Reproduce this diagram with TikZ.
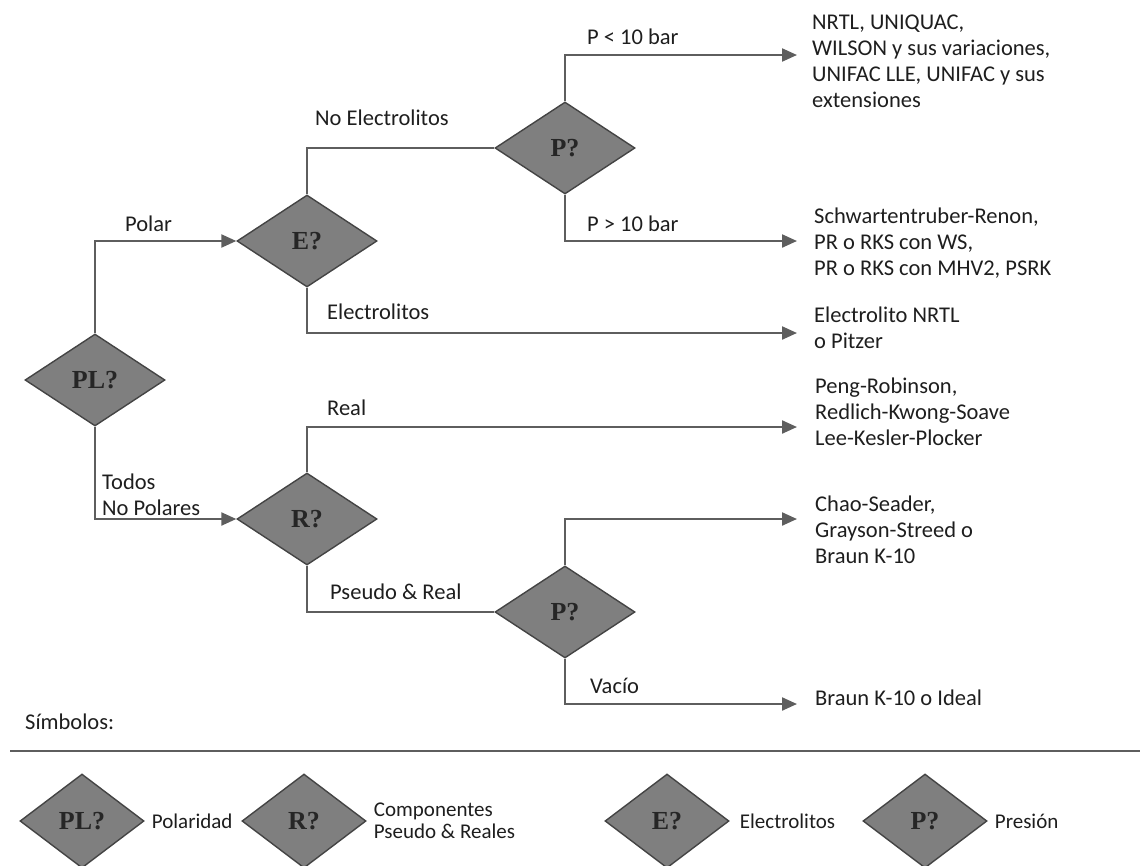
\documentclass[tikz,border=0pt]{standalone}
\usepackage{fontspec}
\setmainfont{Carlito}
\newfontfamily\diafont{Liberation Serif}
\usetikzlibrary{shapes.geometric, arrows.meta, positioning}
\definecolor{diafill}{HTML}{7F7F7F}
\definecolor{diaedge}{HTML}{444444}
\definecolor{linegray}{HTML}{5E5E5E}
\definecolor{txt}{HTML}{1E1E1E}

\begin{document}
\begin{tikzpicture}[
    x=1pt, y=-1pt,
    every node/.style={font=\fontsize{22.5}{26}\selectfont, text=txt},
    dec/.style={diamond, draw=diaedge, fill=diafill, line width=1.4pt, aspect=1.52,
                minimum width=140pt, minimum height=92pt, inner sep=0pt,
                font=\diafont\bfseries\fontsize{26}{30}\selectfont, text=black!85},
    key/.style={dec, aspect=1.32, minimum width=124pt, minimum height=94pt},
    lbl/.style={anchor=west, inner sep=0pt},
    res/.style={anchor=west, inner sep=0pt, align=left},
    keytxt/.style={anchor=west, inner sep=0pt, align=left, font=\fontsize{21}{22}\selectfont},
    lin/.style={line width=2.2pt, draw=linegray},
    arr/.style={lin, -{Triangle[length=15pt, width=13pt]}}
]
    \useasboundingbox (0,0) rectangle (1140,865);

    \node[dec] (pl) at (95,380) {PL?};
    \node[dec] (e)  at (307,241) {E?};
    \node[dec] (pt) at (565,148) {P?};
    \node[dec] (r)  at (307,519) {R?};
    \node[dec] (pb) at (565,612) {P?};

    \node[res] (nrtl)  at (812,61)  {NRTL, UNIQUAC,\\WILSON y sus variaciones,\\UNIFAC LLE, UNIFAC y sus\\extensiones};
    \node[res] (schw)  at (814,243) {Schwartentruber-Renon,\\PR o RKS con WS,\\PR o RKS con MHV2, PSRK};
    \node[res] (elec)  at (814,328) {Electrolito NRTL\\o Pitzer};
    \node[res] (peng)  at (815,412) {Peng-Robinson,\\Redlich-Kwong-Soave\\Lee-Kesler-Plocker};
    \node[res] (chao)  at (815,530) {Chao-Seader,\\Grayson-Streed o\\Braun K-10};
    \node[res] (braun) at (815,698) {Braun K-10 o Ideal};

    \coordinate (in-nrtl)  at (797,55);
    \coordinate (in-schw)  at (797,241);
    \coordinate (in-elec)  at (797,333);
    \coordinate (in-peng)  at (797,427);
    \coordinate (in-chao)  at (797,519);
    \coordinate (in-braun) at (797,704);

    \node[lbl] (l-polar) at (125,224) {Polar};
    \node[lbl] (l-noel)  at (315,118) {No Electrolitos};
    \node[lbl] (l-lo)    at (587,37)  {P < 10 bar};
    \node[lbl] (l-hi)    at (587,224) {P > 10 bar};
    \node[lbl] (l-el)    at (327,312) {Electrolitos};
    \node[lbl] (l-real)  at (327,408) {Real};
    \node[lbl, align=left] (l-np) at (102,495) {Todos\\No Polares};
    \node[lbl] (l-ps)    at (330,592) {Pseudo \& Real};
    \node[lbl] (l-vac)   at (590,686) {Vacío};

    \draw[arr] (pl.north) |- (e.west);
    \draw[arr] (pl.south) |- (r.west);
    \draw[lin] (e.north) |- (pt.west);
    \draw[arr] (e.south) |- (in-elec);
    \draw[arr] (pt.north) |- (in-nrtl);
    \draw[arr] (pt.south) |- (in-schw);
    \draw[arr] (r.north) |- (in-peng);
    \draw[lin] (r.south) |- (pb.west);
    \draw[arr] (pb.north) |- (in-chao);
    \draw[arr] (pb.south) |- (in-braun);

    \node[lbl] (simb) at (25,722) {Símbolos:};
    \draw[lin] (10,751) -- (1140,751);

    \node[key] (k-pl) at (82,821)  {PL?};
    \node[keytxt, right=7pt of k-pl] (t-pl) {Polaridad};
    \node[key] (k-r)  at (304,821) {R?};
    \node[keytxt, right=7pt of k-r] (t-r) {Componentes\\Pseudo \& Reales};
    \node[key] (k-e)  at (667,821) {E?};
    \node[keytxt, right=10pt of k-e] (t-e) {Electrolitos};
    \node[key] (k-p)  at (925,821) {P?};
    \node[keytxt, right=7pt of k-p] (t-p) {Presión};
\end{tikzpicture}
\end{document}
